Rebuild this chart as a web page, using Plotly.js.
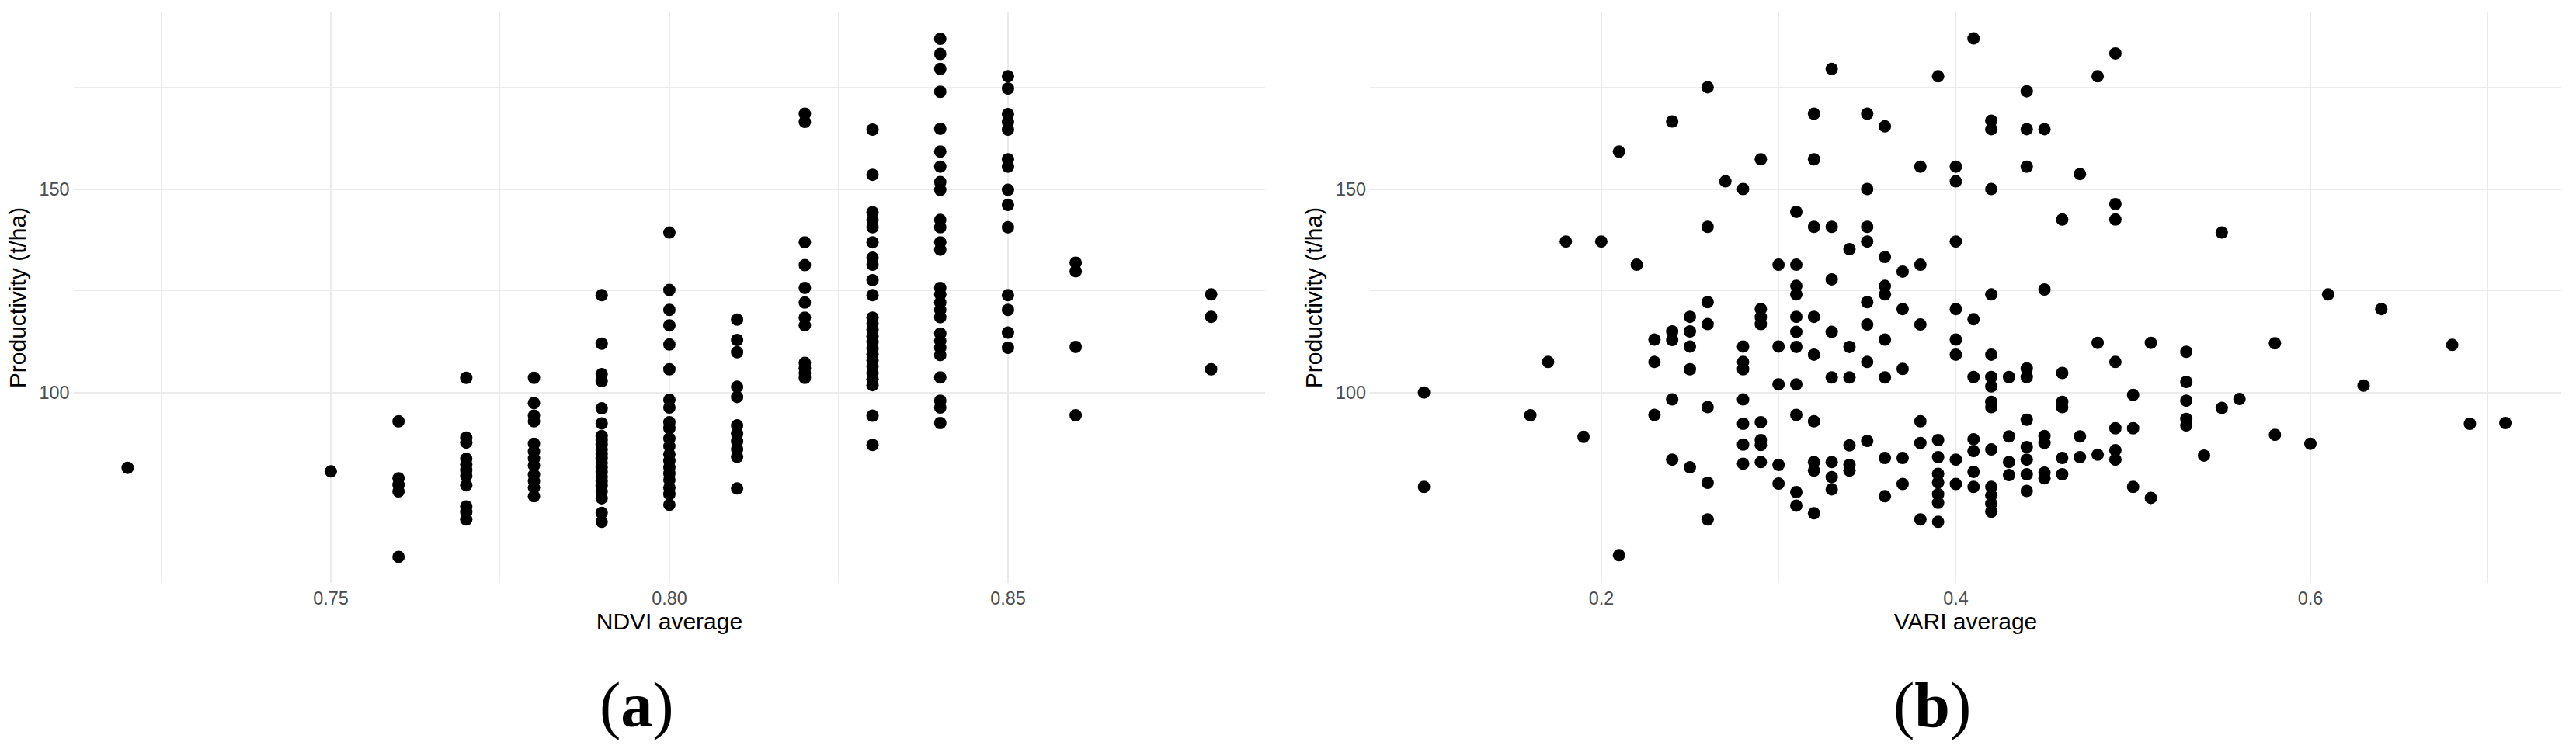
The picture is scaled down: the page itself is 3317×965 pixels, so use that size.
<!DOCTYPE html>
<html>
<head>
<meta charset="utf-8">
<script src="https://cdn.plot.ly/plotly-3.0.1.min.js"></script>
<style>
html, body { margin: 0; padding: 0; background: #ffffff; }
#chart { width: 3317px; height: 965px; }
</style>
</head>
<body>
<div id="chart"></div>
<script>
// ---- Panel (a): NDVI average vs productivity (values grouped by NDVI level) ----
const ndviLevels = [0.72, 0.75, 0.76, 0.77, 0.78, 0.79, 0.80, 0.81, 0.82, 0.83, 0.84, 0.85, 0.86, 0.88];
const ndviProductivity = [
  [81.5],
  [80.6],
  [92.9, 78.9, 77.3, 75.7, 59.6],
  [103.6, 88.9, 87.7, 83.7, 82.3, 80.9, 79.5, 77.2, 72.0, 70.6, 68.8],
  [103.6, 97.4, 94.3, 92.9, 87.4, 85.5, 83.8, 82.1, 79.8, 78.2, 76.6, 74.5],
  [123.9, 112.0, 104.5, 102.8, 96.1, 92.4, 89.3, 88.3, 87.2, 86.0, 84.9, 83.8, 82.7, 81.6, 80.5, 79.3, 78.2, 77.1, 75.7, 74.0, 70.4, 68.2],
  [139.3, 125.2, 120.3, 116.5, 111.8, 105.7, 98.2, 96.3, 92.7, 91.2, 88.7, 86.8, 84.8, 83.2, 81.6, 80.1, 78.5, 76.6, 75.0, 72.4],
  [117.9, 112.9, 109.9, 101.4, 98.9, 91.9, 89.9, 88.0, 86.1, 84.2, 76.4],
  [168.5, 166.5, 136.9, 131.3, 125.7, 122.1, 118.4, 116.5, 107.3, 106.0, 104.8, 103.6],
  [164.6, 153.5, 144.3, 142.4, 140.6, 136.9, 133.1, 131.4, 127.6, 123.9, 118.4, 116.9, 115.4, 113.8, 112.4, 110.8, 109.4, 107.8, 106.4, 104.8, 103.3, 101.8, 94.3, 87.1],
  [186.9, 183.2, 179.5, 173.9, 164.8, 159.2, 155.5, 151.7, 149.8, 142.4, 140.6, 136.9, 135.1, 125.7, 124.1, 122.1, 120.3, 118.5, 114.5, 112.7, 111.0, 109.2, 103.7, 98.0, 96.3, 92.5],
  [177.7, 174.7, 168.4, 166.5, 164.6, 157.3, 155.5, 149.8, 146.1, 140.6, 123.9, 120.3, 114.7, 111.0],
  [131.9, 129.8, 111.2, 94.4],
  [124.1, 118.6, 105.7]
];

// ---- Panel (b): VARI average vs productivity (values grouped by VARI level) ----
const variLevels = [0.10, 0.16, 0.17, 0.18, 0.19, 0.20, 0.21, 0.22, 0.23, 0.24, 0.25, 0.26, 0.27, 0.28, 0.29, 0.30,
  0.31, 0.32, 0.33, 0.34, 0.35, 0.36, 0.37, 0.38, 0.39, 0.40, 0.41, 0.42, 0.43, 0.44, 0.45, 0.46, 0.47, 0.48, 0.49,
  0.50, 0.51, 0.53, 0.54, 0.55, 0.56, 0.58, 0.60, 0.61, 0.63, 0.64, 0.68, 0.69, 0.71];
const variProductivity = [
  [100.0, 76.8],
  [94.4],
  [107.5],
  [137.1],
  [89.1],
  [137.1],
  [159.2, 60.0],
  [131.4],
  [113.0, 107.5, 94.5],
  [166.6, 115.0, 112.9, 98.3, 83.5],
  [118.6, 115.0, 111.3, 105.7, 81.6],
  [175.0, 140.7, 122.2, 116.8, 96.4, 77.8, 68.8],
  [151.9],
  [150.0, 111.3, 107.5, 105.7, 98.3, 92.3, 87.2, 82.5],
  [157.3, 120.5, 118.5, 116.8, 92.7, 88.3, 87.1, 82.9],
  [131.4, 111.3, 102.0, 82.2, 77.6],
  [144.4, 131.4, 126.2, 124.1, 118.6, 114.9, 111.2, 102.0, 94.5, 75.5, 72.2],
  [168.5, 157.3, 140.7, 118.6, 109.3, 92.9, 82.9, 80.8, 70.3],
  [179.5, 140.7, 127.8, 114.9, 103.7, 82.9, 79.2, 76.2],
  [135.2, 111.2, 103.7, 87.0, 82.2, 80.8],
  [168.5, 150.0, 140.7, 137.1, 122.2, 116.7, 107.5, 88.1],
  [165.4, 133.3, 126.2, 124.1, 113.0, 103.7, 83.9, 74.5],
  [129.7, 120.5, 105.8, 83.9, 77.5],
  [155.5, 131.4, 116.7, 92.9, 87.6, 68.8],
  [177.7, 88.3, 84.1, 80.0, 77.9, 75.0, 72.9, 68.2],
  [155.5, 151.9, 137.1, 120.5, 113.0, 109.3, 83.5, 77.5],
  [187.0, 118.0, 103.8, 88.5, 85.6, 80.5, 76.8],
  [166.8, 164.7, 150.0, 124.1, 109.3, 103.8, 101.5, 97.7, 96.4, 86.0, 76.8, 74.7, 72.7, 70.7],
  [103.8, 89.2, 82.9, 79.7],
  [174.0, 164.7, 155.5, 105.9, 103.8, 93.3, 86.6, 83.5, 79.9, 75.8],
  [164.7, 125.3, 89.3, 87.6, 80.3, 78.9],
  [142.5, 104.8, 97.7, 96.4, 83.9, 79.9],
  [153.7, 89.2, 84.1],
  [177.7, 112.2, 84.7],
  [183.3, 146.3, 142.5, 107.5, 91.2, 85.8, 83.5],
  [99.4, 91.2, 76.8],
  [112.2, 74.1],
  [110.0, 102.6, 98.0, 93.5, 91.9],
  [84.5],
  [139.3, 96.2],
  [98.4],
  [112.1, 89.6],
  [87.4],
  [124.1],
  [101.7],
  [120.5],
  [111.7],
  [92.3],
  [92.5]
];

// tick labels
const ndviTickVals = [0.75, 0.80, 0.85];
const variTickVals = [0.2, 0.4, 0.6];
const prodTickVals = [100, 150];
const captions = ['(<b>a</b>)', '(<b>b</b>)'];

function flatten(levels, groups) {
  const xs = [], ys = [];
  levels.forEach((lv, i) => groups[i].forEach(v => { xs.push(lv); ys.push(v); }));
  return { xs, ys };
}
const a = flatten(ndviLevels, ndviProductivity);
const b = flatten(variLevels, variProductivity);

const W = 3317, H = 965;
const marker = { color: '#000000', size: 16, line: { width: 0 } };

const traces = [
  { type: 'scatter', mode: 'markers', x: a.xs, y: a.ys, xaxis: 'x', yaxis: 'y', marker: marker, hoverinfo: 'x+y' },
  { type: 'scatter', mode: 'markers', x: b.xs, y: b.ys, xaxis: 'x2', yaxis: 'y2', marker: marker, hoverinfo: 'x+y' }
];

const tickFont = { family: 'Liberation Sans, Arial, sans-serif', size: 23.4, color: '#4d4d4d' };
const titleFont = { family: 'Liberation Sans, Arial, sans-serif', size: 30, color: '#000000' };
const gridC = '#ebebeb';

function xAxis(domain, range, tickvals, fmt, minorDtick, title, anchor) {
  return {
    domain: domain, range: range, anchor: anchor,
    tickmode: 'array', tickvals: tickvals, tickformat: fmt,
    showgrid: true, gridcolor: gridC, gridwidth: 2,
    minor: { dtick: minorDtick, tick0: 0, showgrid: true, gridcolor: gridC, gridwidth: 1, ticks: '' },
    zeroline: false, showline: false, ticks: '',
    tickfont: tickFont, ticklabelstandoff: 4,
    title: { text: title, font: titleFont, standoff: 6 }
  };
}
function yAxis(domain, anchor) {
  return {
    domain: domain, range: [53.2, 193.4], anchor: anchor,
    tickmode: 'array', tickvals: prodTickVals,
    showgrid: true, gridcolor: gridC, gridwidth: 2,
    minor: { dtick: 25, tick0: 0, showgrid: true, gridcolor: gridC, gridwidth: 1, ticks: '' },
    zeroline: false, showline: false, ticks: '',
    tickfont: tickFont, ticklabelstandoff: 4,
    title: { text: 'Productivity (t/ha)', font: titleFont, standoff: 8 }
  };
}

const yDom = [1 - 751 / H, 1 - 16 / H];
const layout = {
  width: W, height: H,
  margin: { l: 0, r: 0, t: 0, b: 0, pad: 0 },
  paper_bgcolor: '#ffffff', plot_bgcolor: '#ffffff',
  showlegend: false,
  xaxis: xAxis([94.6 / W, 1629.3 / W], [0.712, 0.888], ndviTickVals, '.2f', 0.025, 'NDVI average', 'y'),
  yaxis: yAxis(yDom, 'x'),
  xaxis2: xAxis([1764 / W, 3298 / W], [0.0695, 0.7415], variTickVals, '.1f', 0.1, 'VARI average', 'y2'),
  yaxis2: yAxis(yDom, 'x2'),
  annotations: [
    { text: captions[0], xref: 'paper', yref: 'paper', x: 820 / W, y: 1 - 908 / H, xanchor: 'center', yanchor: 'middle',
      showarrow: false, font: { family: 'Liberation Serif, Times New Roman, serif', size: 82, color: '#000000' } },
    { text: captions[1], xref: 'paper', yref: 'paper', x: 2488 / W, y: 1 - 908 / H, xanchor: 'center', yanchor: 'middle',
      showarrow: false, font: { family: 'Liberation Serif, Times New Roman, serif', size: 82, color: '#000000' } }
  ]
};

Plotly.newPlot('chart', traces, layout, { staticPlot: true, displayModeBar: false });
</script>
</body>
</html>
